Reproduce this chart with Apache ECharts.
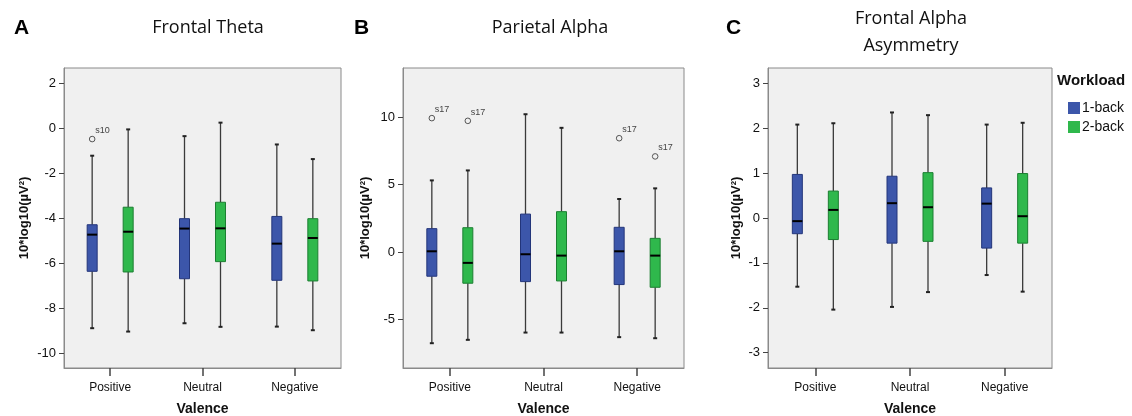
<!DOCTYPE html>
<html>
<head>
<meta charset="utf-8">
<script src="https://cdn.jsdelivr.net/npm/echarts@6/dist/echarts.min.js"></script>
<style>
  html, body { margin: 0; padding: 0; background: #fff; }
  #chart { width: 1132px; height: 416px; }
</style>
</head>
<body>
<div id="chart"></div>
<script>
  // categories + groups
  var valence = ['Positive', 'Neutral', 'Negative']
  var groups = ['1-back', '2-back']

  // box stats per category: [min, Q1, median, Q3, max]
  var thetaOne = [[-8.9, -6.37, -4.74, -4.3, -1.23], [-8.68, -6.7, -4.47, -4.03, -0.36], [-8.83, -6.77, -5.14, -3.93, -0.73]]
  var thetaTwo = [[-9.05, -6.4, -4.61, -3.52, -0.06], [-8.84, -5.94, -4.46, -3.3, 0.24], [-8.99, -6.8, -4.89, -4.03, -1.38]]
  var parOne = [[-6.77, -1.8, 0.05, 1.73, 5.31], [-5.98, -2.2, -0.17, 2.81, 10.22], [-6.32, -2.42, 0.05, 1.83, 3.93]]
  var parTwo = [[-6.52, -2.32, -0.81, 1.8, 6.05], [-5.98, -2.15, -0.27, 2.99, 9.21], [-6.4, -2.62, -0.27, 1.01, 4.72]]
  var asymOne = [[-1.53, -0.35, -0.07, 0.97, 2.08], [-1.98, -0.56, 0.33, 0.93, 2.35], [-1.27, -0.67, 0.32, 0.67, 2.08]]
  var asymTwo = [[-2.04, -0.48, 0.18, 0.6, 2.11], [-1.65, -0.52, 0.24, 1.01, 2.29], [-1.64, -0.56, 0.04, 0.99, 2.12]]

  // outliers: [categoryIndex, value, label]
  var thetaOutOne = [[0, -0.49, 's10']]
  var thetaOutTwo = []
  var parOutOne = [[0, 9.93, 's17'], [2, 8.44, 's17']]
  var parOutTwo = [[0, 9.73, 's17'], [2, 7.09, 's17']]
  var asymOutOne = []
  var asymOutTwo = []

  // y tick labels
  var thetaTicks = [-10, -8, -6, -4, -2, 0, 2]
  var parTicks = [-5, 0, 5, 10]
  var asymTicks = [-3, -2, -1, 0, 1, 2, 3]

  var titles = ['Frontal Theta', 'Parietal Alpha', 'Frontal Alpha\nAsymmetry']
  var letters = ['A', 'B', 'C']

  var colors = { '1-back': '#3c56aa', '2-back': '#2fb84c' }
  var borders = { '1-back': '#23357a', '2-back': '#1b7f31' }
  var offsets = { '1-back': -18, '2-back': 18 }

  var font = '"Liberation Sans", Arial, sans-serif'

  var chart = echarts.init(document.getElementById('chart'), null, { renderer: 'canvas' })

  function toRows(stats) {
    return stats.map(function (s, i) { return [i].concat(s) })
  }

  function boxSeries(name, stats, idx) {
    var off = offsets[name]
    return {
      name: name,
      type: 'custom',
      xAxisIndex: idx,
      yAxisIndex: idx,
      itemStyle: { color: colors[name] },
      encode: { x: 0, y: [1, 2, 3, 4, 5] },
      data: toRows(stats),
      renderItem: function (params, api) {
        var c = api.value(0)
        var pMin = api.coord([c, api.value(1)])
        var pQ1 = api.coord([c, api.value(2)])
        var pMed = api.coord([c, api.value(3)])
        var pQ3 = api.coord([c, api.value(4)])
        var pMax = api.coord([c, api.value(5)])
        var x = pMin[0] + off
        var hw = 5
        var line = { stroke: '#3a3a3a', lineWidth: 1.3 }
        var cap = { stroke: '#222', lineWidth: 2 }
        return {
          type: 'group',
          children: [
            { type: 'line', shape: { x1: x, y1: pQ3[1], x2: x, y2: pMax[1] }, style: line },
            { type: 'line', shape: { x1: x, y1: pQ1[1], x2: x, y2: pMin[1] }, style: line },
            { type: 'line', shape: { x1: x - 2, y1: pMax[1], x2: x + 2, y2: pMax[1] }, style: cap },
            { type: 'line', shape: { x1: x - 2, y1: pMin[1], x2: x + 2, y2: pMin[1] }, style: cap },
            {
              type: 'rect',
              shape: { x: x - hw, y: pQ3[1], width: hw * 2, height: pQ1[1] - pQ3[1] },
              style: { fill: colors[name], stroke: borders[name], lineWidth: 1 }
            },
            { type: 'line', shape: { x1: x - hw, y1: pMed[1], x2: x + hw, y2: pMed[1] }, style: { stroke: '#000', lineWidth: 2 } }
          ]
        }
      }
    }
  }

  function outlierSeries(name, points, idx) {
    var off = offsets[name]
    return {
      name: name,
      type: 'custom',
      xAxisIndex: idx,
      yAxisIndex: idx,
      itemStyle: { color: colors[name] },
      encode: { x: 0, y: 1 },
      data: points,
      renderItem: function (params, api) {
        var p = api.coord([api.value(0), api.value(1)])
        var x = p[0] + off
        return {
          type: 'group',
          children: [
            { type: 'circle', shape: { cx: x, cy: p[1], r: 2.8 }, style: { fill: '#f0f0f0', stroke: '#555', lineWidth: 1 } },
            {
              type: 'text',
              x: x + 3,
              y: p[1] - 4,
              style: { text: points[params.dataIndex][2], fill: '#444', font: '9px ' + font, textVerticalAlign: 'bottom' }
            }
          ]
        }
      }
    }
  }

  var grids = [
    { left: 64, top: 68, width: 277, height: 300 },
    { left: 403, top: 68, width: 281, height: 300 },
    { left: 768, top: 68, width: 284, height: 300 }
  ]
  var yRanges = [[-10.67, 2.67], [-8.61, 13.65], [-3.34, 3.34]]
  var yTicks = [thetaTicks, parTicks, asymTicks]
  var yNameGaps = [33, 31, 25]

  var titleStyle = { fontFamily: '"Open Sans", sans-serif', fontWeight: 'normal', fontSize: 18, lineHeight: 27, color: '#111' }
  var letterStyle = { fontFamily: font, fontWeight: 'bold', fontSize: 21, color: '#000' }

  var option = {
    animation: false,
    textStyle: { fontFamily: font },
    title: [
      { text: titles[0], left: 203, top: 9, textAlign: 'center', textStyle: titleStyle },
      { text: titles[1], left: 545, top: 9, textAlign: 'center', textStyle: titleStyle },
      { text: titles[2], left: 906, top: 0, textAlign: 'center', textStyle: titleStyle },
      { text: letters[0], left: 9, top: 13, textStyle: letterStyle },
      { text: letters[1], left: 349, top: 13, textStyle: letterStyle },
      { text: letters[2], left: 721, top: 13, textStyle: letterStyle }
    ],
    legend: {
      data: groups,
      left: 1063,
      top: 96,
      orient: 'vertical',
      icon: 'rect',
      itemWidth: 12,
      itemHeight: 12,
      itemGap: 5,
      textStyle: { fontSize: 14, color: '#111', padding: [0, 0, 0, -3] },
      selectedMode: false
    },
    graphic: [
      { type: 'text', left: 1057, top: 73, style: { text: 'Workload', font: 'bold 15px ' + font, fill: '#111' } }
    ],
    grid: grids.map(function (g) {
      return Object.assign({ show: true, backgroundColor: '#f0f0f0', borderColor: '#8a8a8a', borderWidth: 1, outerBoundsMode: 'none', containLabel: false }, g)
    }),
    xAxis: grids.map(function (g, i) {
      return {
        type: 'category',
        gridIndex: i,
        data: valence,
        name: 'Valence',
        nameLocation: 'middle',
        nameGap: 34,
        nameTextStyle: { fontWeight: 'bold', fontSize: 14, color: '#111' },
        axisLine: { show: true, onZero: false, lineStyle: { color: '#8a8a8a' } },
        axisTick: { show: true, alignWithLabel: true, length: 8, lineStyle: { color: '#444', width: 1.5 } },
        axisLabel: { margin: 14, fontSize: 12, color: '#111', interval: 0 }
      }
    }),
    yAxis: grids.map(function (g, i) {
      return {
        type: 'value',
        gridIndex: i,
        min: yRanges[i][0],
        max: yRanges[i][1],
        name: '10*log10(µV²)',
        nameLocation: 'middle',
        nameRotate: 90,
        nameGap: yNameGaps[i],
        nameTextStyle: { fontWeight: 'bold', fontSize: 13, color: '#111' },
        splitLine: { show: false },
        axisLine: { show: true, onZero: false, lineStyle: { color: '#8a8a8a' } },
        axisTick: { show: true, length: 5, customValues: yTicks[i], lineStyle: { color: '#444' } },
        axisLabel: { margin: 8, fontSize: 13, color: '#111', customValues: yTicks[i] }
      }
    }),
    series: [
      boxSeries('1-back', thetaOne, 0),
      boxSeries('2-back', thetaTwo, 0),
      outlierSeries('1-back', thetaOutOne, 0),
      outlierSeries('2-back', thetaOutTwo, 0),
      boxSeries('1-back', parOne, 1),
      boxSeries('2-back', parTwo, 1),
      outlierSeries('1-back', parOutOne, 1),
      outlierSeries('2-back', parOutTwo, 1),
      boxSeries('1-back', asymOne, 2),
      boxSeries('2-back', asymTwo, 2),
      outlierSeries('1-back', asymOutOne, 2),
      outlierSeries('2-back', asymOutTwo, 2)
    ]
  }

  chart.setOption(option)
</script>
</body>
</html>
